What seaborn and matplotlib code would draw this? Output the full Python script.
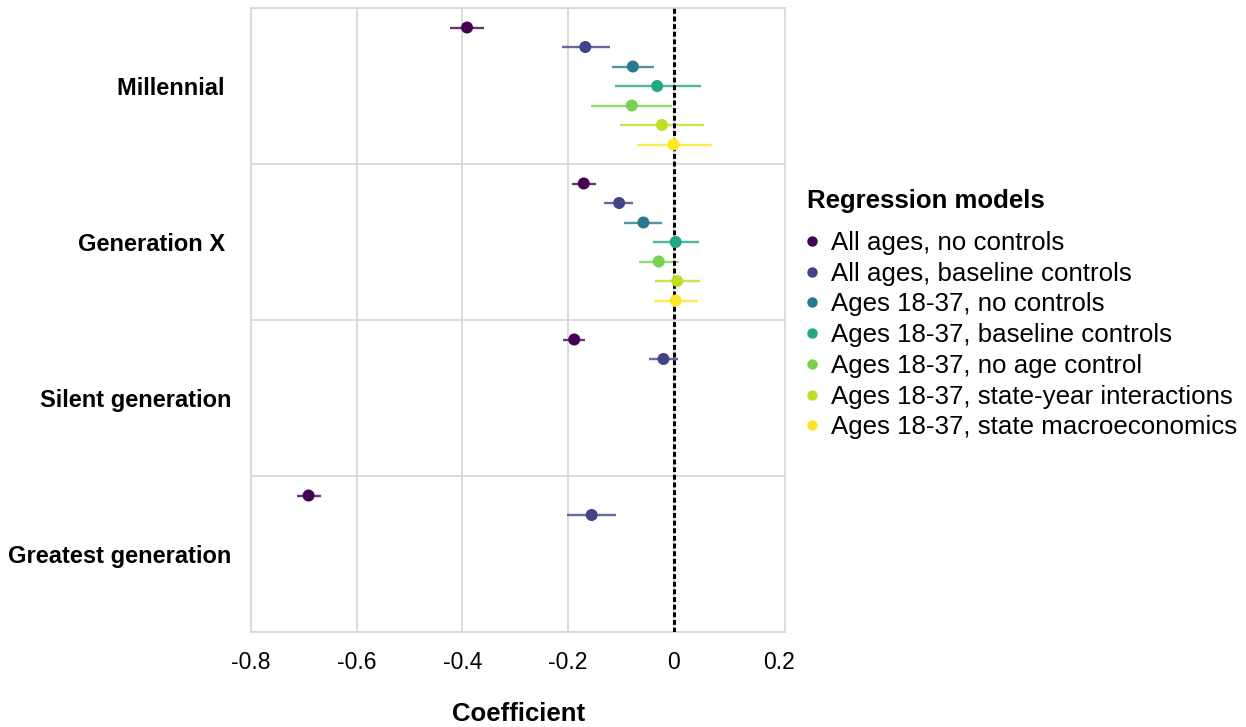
import numpy as np
import pandas as pd
import matplotlib
matplotlib.use("Agg")
import matplotlib.pyplot as plt
import seaborn as sns
from matplotlib.lines import Line2D

# ---------------- data ----------------
generations = ["Millennial ", "Generation X ", "Silent generation", "Greatest generation"]
models = [
    "All ages, no controls",
    "All ages, baseline controls",
    "Ages 18-37, no controls",
    "Ages 18-37, baseline controls",
    "Ages 18-37, no age control",
    "Ages 18-37, state-year interactions",
    "Ages 18-37, state macroeconomics",
]
colors = ["#440154", "#414487", "#2A788E", "#22A884", "#7AD151", "#BDDF26", "#FDE725"]

coef_millennial = [-0.391, -0.167, -0.077, -0.031, -0.079, -0.022, 0.000]
lo_millennial = [-0.423, -0.212, -0.116, -0.111, -0.156, -0.102, -0.069]
hi_millennial = [-0.358, -0.121, -0.037, 0.052, -0.002, 0.058, 0.072]

coef_genx = [-0.170, -0.103, -0.057, 0.004, -0.028, 0.007, 0.004]
lo_genx = [-0.193, -0.131, -0.093, -0.038, -0.065, -0.035, -0.037]
hi_genx = [-0.146, -0.076, -0.021, 0.048, 0.010, 0.050, 0.046]

coef_silent = [-0.188, -0.019]
lo_silent = [-0.209, -0.046]
hi_silent = [-0.167, 0.009]

coef_greatest = [-0.691, -0.155]
lo_greatest = [-0.713, -0.201]
hi_greatest = [-0.668, -0.108]

x_ticks = [-0.8, -0.6, -0.4, -0.2, 0, 0.2]
x_tick_labels = ["-0.8", "-0.6", "-0.4", "-0.2", "0", "0.2"]

# ---------------- long table ----------------
rows = []
for g, (c, lo, hi) in enumerate([
    (coef_millennial, lo_millennial, hi_millennial),
    (coef_genx, lo_genx, hi_genx),
    (coef_silent, lo_silent, hi_silent),
    (coef_greatest, lo_greatest, hi_greatest),
]):
    for m in range(len(c)):
        rows.append(dict(generation=generations[g], model=models[m],
                         coef=c[m], lo=lo[m], hi=hi[m], ypos=g * 8 + m + 1))
df = pd.DataFrame(rows)

# ---------------- plot ----------------
sns.set_theme(style="white")
plt.rcParams["font.family"] = ["Liberation Sans", "DejaVu Sans"]
plt.rcParams["text.color"] = "black"
plt.rcParams["xtick.color"] = "black"
plt.rcParams["ytick.color"] = "black"
plt.rcParams["axes.labelcolor"] = "black"

fig = plt.figure(figsize=(12.46, 7.27), dpi=100)
ax = fig.add_axes([251 / 1246, 1 - 632 / 727, (785.5 - 251) / 1246, (632 - 8) / 727])

pal = dict(zip(models, colors))
for _, r in df.iterrows():
    ax.hlines(r["ypos"], r["lo"], r["hi"], color=pal[r["model"]], lw=1.7, alpha=0.8, zorder=3)
sns.scatterplot(data=df, x="coef", y="ypos", hue="model", hue_order=models, palette=pal,
                s=75, linewidth=0, legend=False, zorder=5, ax=ax)

ax.axvline(0, color="black", lw=2.2, ls=(0, (1.6, 0.9)), zorder=4)

ax.set_xlim(-0.8, 0.212)
ax.set_ylim(32, 0)
ax.set_xticks(x_ticks)
ax.set_xticklabels(x_tick_labels, fontsize=16.5)
ax.set_yticks([0, 8, 16, 24, 32])
ax.set_yticklabels([])
ax.set_yticks([4, 12, 20, 28], minor=True)
ax.set_yticklabels(generations, minor=True, fontsize=17, fontweight="bold")
ax.tick_params(axis="y", which="both", length=0, pad=14)
ax.tick_params(axis="x", length=0, pad=14)
ax.grid(True, which="major", axis="both", color="#d9d9d9", lw=1.3)
ax.get_xgridlines()[-1].set_visible(False)
for s in ax.spines.values():
    s.set_color("#d9d9d9")
    s.set_linewidth(1.3)
ax.set_xlabel("Coefficient", fontsize=18.5, fontweight="bold", labelpad=20)
ax.set_ylabel("")

fig.text(807 / 1246, 1 - 201 / 727, "Regression models", fontsize=18.5, fontweight="bold",
         ha="left", va="center")
handles = [Line2D([0], [0], marker="o", ls="", color=c, markersize=6.5) for c in colors]
leg = fig.legend(handles, models, loc="upper left", bbox_to_anchor=(804 / 1246, 1 - 231 / 727),
                 frameon=False, fontsize=18.6,
                 handlelength=0.6, handletextpad=0.45, labelspacing=0.26, borderaxespad=0,
                 borderpad=0)

fig.savefig("out.png", dpi=100)
